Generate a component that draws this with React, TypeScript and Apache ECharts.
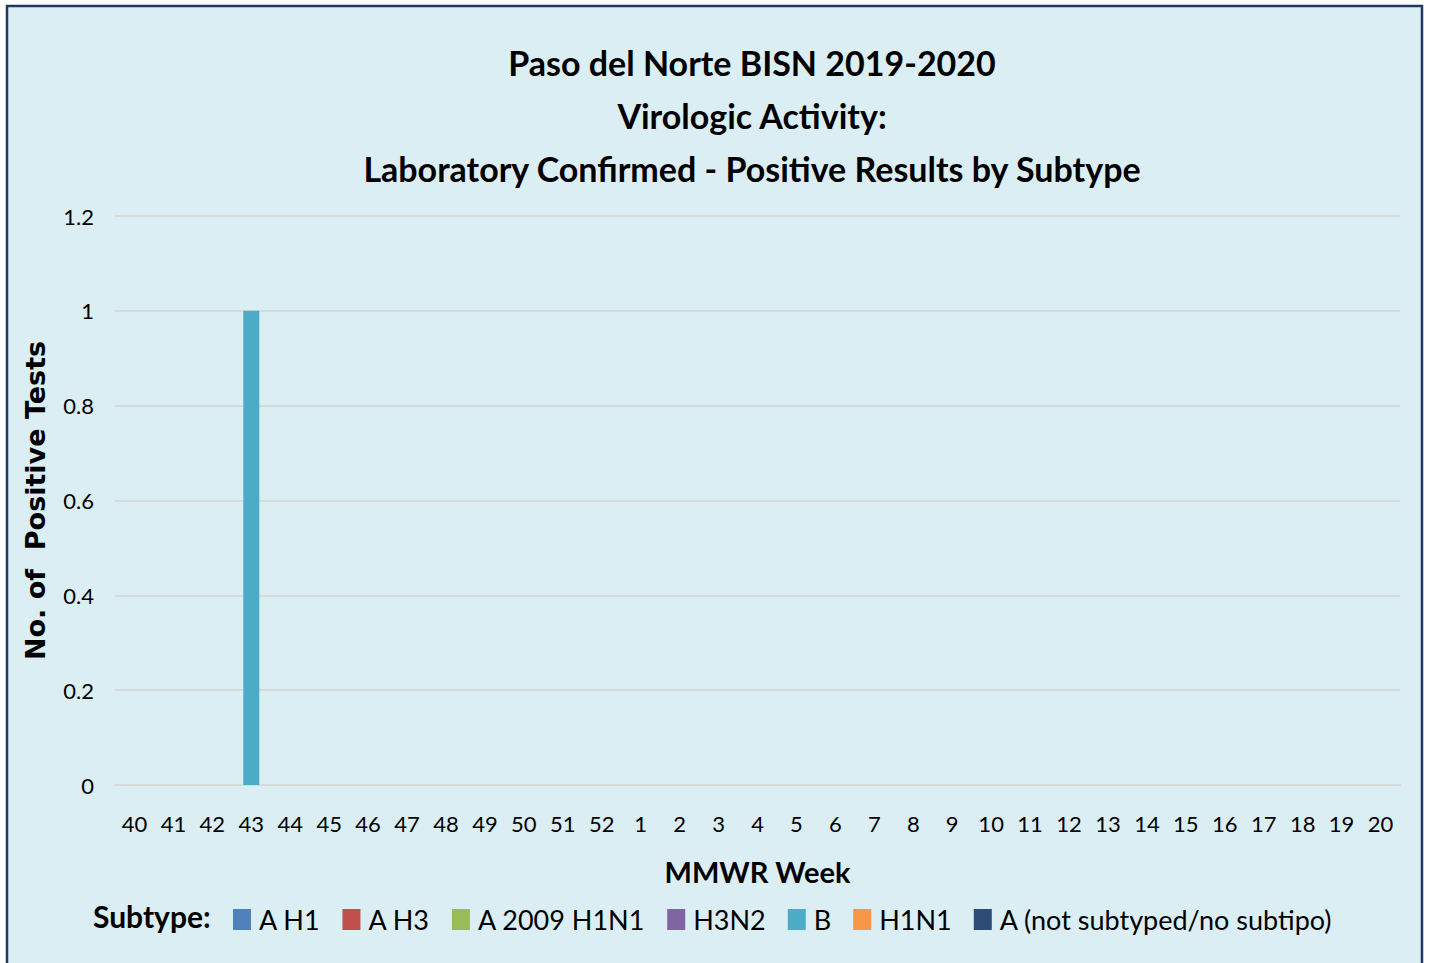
import React, { useEffect, useRef } from "react";
import * as echarts from "echarts";

const weeks = ["40","41","42","43","44","45","46","47","48","49","50","51","52","1","2","3","4","5","6","7","8","9","10","11","12","13","14","15","16","17","18","19","20"];
const seriesNames = ["A H1","A H3","A 2009 H1N1","H3N2","B","H1N1","A (not subtyped/no subtipo)"];
const seriesColors = ["#4F81BD","#C0504D","#9BBB59","#8064A2","#4BACC6","#F79646","#2C4D75"];
const zeros = [0,0,0,0,0,0,0,0,0,0,0,0,0,0,0,0,0,0,0,0,0,0,0,0,0,0,0,0,0,0,0,0,0];
const valuesAH1 = zeros;
const valuesAH3 = zeros;
const valuesA2009 = zeros;
const valuesH3N2 = zeros;
const valuesB = [0,0,0,1,0,0,0,0,0,0,0,0,0,0,0,0,0,0,0,0,0,0,0,0,0,0,0,0,0,0,0,0,0];
const valuesH1N1 = zeros;
const valuesANS = zeros;
const seriesValues = [valuesAH1, valuesAH3, valuesA2009, valuesH3N2, valuesB, valuesH1N1, valuesANS];
const titleLines = ["Paso del Norte BISN 2019-2020", "Virologic Activity:", "Laboratory Confirmed - Positive Results by Subtype"];

const FONT = "Lato, 'Liberation Sans', sans-serif";
const NAMEFONT = "'DejaVu Sans', sans-serif";

export default function App() {
  const ref = useRef<HTMLDivElement>(null);
  useEffect(() => {
    document.body.style.margin = "0";
    const chart = echarts.init(ref.current!, null, { renderer: "svg" });
    chart.setOption({
      animation: false,
      backgroundColor: "#ffffff",
      textStyle: { fontFamily: FONT },
      graphic: [
        {
          type: "rect",
          z: -10,
          shape: { x: 7, y: 6, width: 1415, height: 975 },
          style: { fill: "#DBEEF4", stroke: "#1F3A60", lineWidth: 2.5 },
          silent: true,
        },
        {
          type: "text",
          x: 93,
          y: 916,
          style: {
            text: "Subtype:",
            font: `bold 30px ${FONT}`,
            fill: "#000",
            verticalAlign: "middle",
          },
        },
      ],
      title: {
        text: titleLines.join("\n"),
        left: 747,
        top: 31,
        textAlign: "center",
        textStyle: { fontFamily: FONT, fontSize: 34, fontWeight: "bold", color: "#000", lineHeight: 53 },
      },
      legend: {
        data: seriesNames,
        left: 233,
        top: 906,
        padding: 0,
        itemWidth: 18,
        itemHeight: 21,
        itemGap: 22,
        icon: "rect",
        textStyle: { fontFamily: FONT, fontSize: 27, color: "#000", padding: [3, 0, 0, 3] },
      },
      grid: { left: 115, right: 29, top: 216, bottom: 178, containLabel: false },
      xAxis: {
        type: "category",
        data: weeks,
        name: "MMWR Week",
        nameLocation: "middle",
        nameGap: 72,
        nameTextStyle: { fontFamily: FONT, fontSize: 29, fontWeight: "bold", color: "#000" },
        axisLine: { lineStyle: { color: "#D9D9D9", width: 2 } },
        axisTick: { show: false },
        axisLabel: { interval: 0, fontSize: 22, color: "#000", margin: 27, fontFamily: FONT },
      },
      yAxis: {
        type: "value",
        min: 0,
        max: 1.2,
        interval: 0.2,
        name: "No. of  Positive Tests",
        nameLocation: "middle",
        nameGap: 66,
        nameTextStyle: { fontFamily: NAMEFONT, fontSize: 27, fontWeight: "bold", color: "#000" },
        axisLine: { show: false },
        axisTick: { show: false },
        splitLine: { lineStyle: { color: "#D9D9D9", width: 2 } },
        axisLabel: {
          fontSize: 22,
          color: "#000",
          margin: 21,
          fontFamily: FONT,
          formatter: (v: number) => String(Math.round(v * 10) / 10),
        },
      },
      series: seriesNames.map((name, i) => ({
        name,
        type: "bar",
        stack: "total",
        barWidth: 16,
        itemStyle: { color: seriesColors[i] },
        data: seriesValues[i],
      })),
    });
    return () => chart.dispose();
  }, []);
  return <div ref={ref} style={{ width: 1429, height: 963 }} />;
}
